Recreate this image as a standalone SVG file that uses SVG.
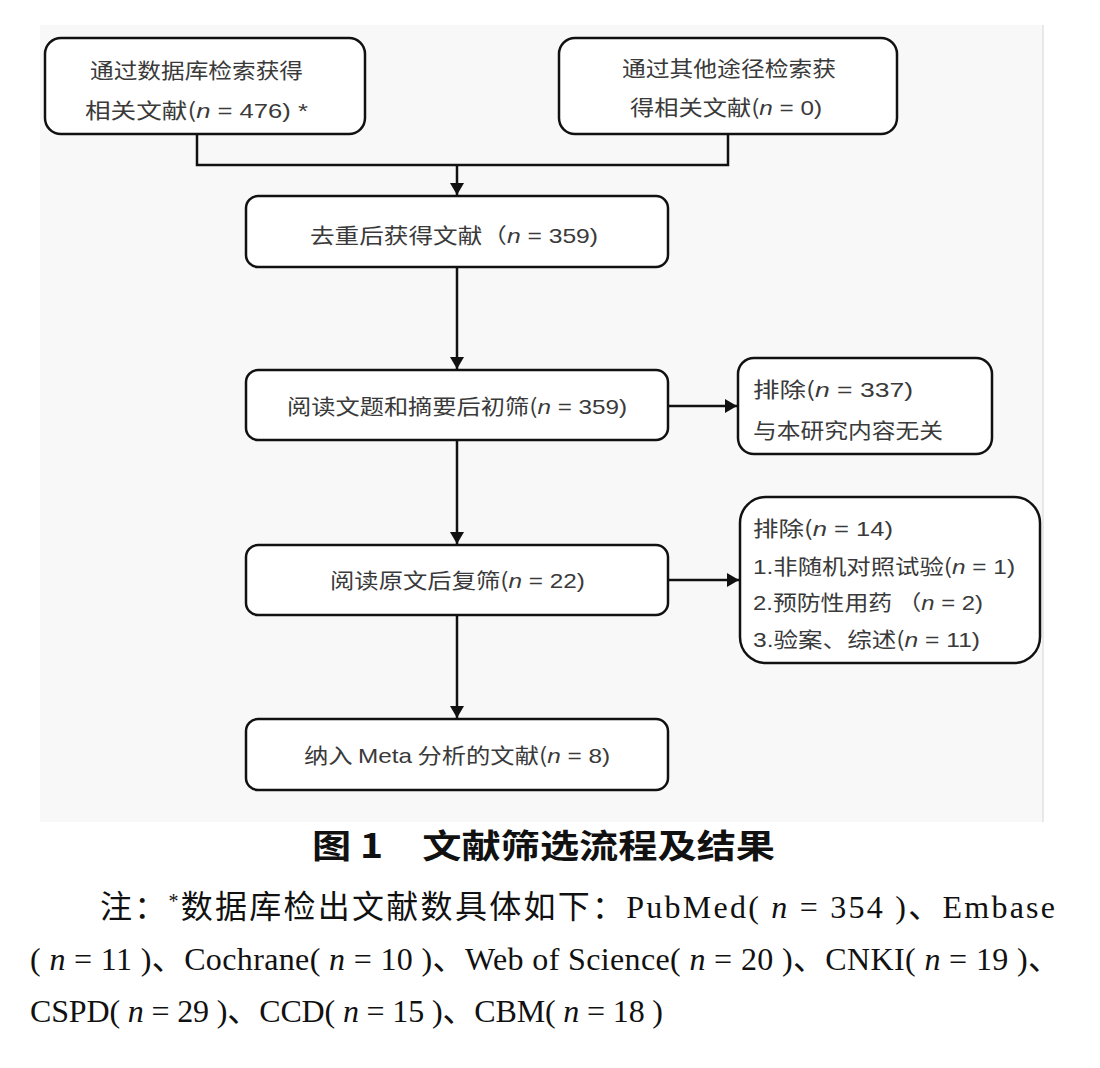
<svg xmlns="http://www.w3.org/2000/svg" width="1100" height="1068" viewBox="0 0 1100 1068">
<style>
.box{fill:#ffffff;stroke:#111;stroke-width:2.5}
.t{font-family:"Noto Sans CJK SC","Liberation Sans",sans-serif;font-size:21px;fill:#3a3a3a}
.n{font-family:"Liberation Sans",sans-serif}
.i{font-style:italic}
.ln{fill:none;stroke:#111;stroke-width:2.5}
.cap{font-family:"Noto Sans CJK SC",sans-serif;font-size:33px;font-weight:bold;fill:#111}
.note{font-family:"Liberation Serif","Noto Sans CJK SC",serif;font-size:32px;fill:#111}
</style>
<defs>
<marker id="ah" viewBox="0 0 12 14" refX="12" refY="7" markerWidth="12" markerHeight="14" markerUnits="userSpaceOnUse" orient="auto">
<path d="M0,0 L12,7 L0,14 Z" fill="#111"/>
</marker>
</defs>
<rect x="40" y="25" width="1003" height="797" fill="#f8f8f8"/>
<line x1="1043" y1="25" x2="1043" y2="822" stroke="#e2e2e2" stroke-width="1.5"/>

<g id="connectors">
<path class="ln" d="M197,134 V165 H728 V134"/>
<line class="ln" x1="457" y1="165" x2="457" y2="195" marker-end="url(#ah)"/>
<line class="ln" x1="457" y1="267" x2="457" y2="369" marker-end="url(#ah)"/>
<line class="ln" x1="668" y1="406" x2="737" y2="406" marker-end="url(#ah)"/>
<line class="ln" x1="457" y1="440" x2="457" y2="544" marker-end="url(#ah)"/>
<line class="ln" x1="668" y1="580" x2="739" y2="580" marker-end="url(#ah)"/>
<line class="ln" x1="457" y1="615" x2="457" y2="718" marker-end="url(#ah)"/>
</g>

<g id="node-db">
<rect class="box" x="45" y="38" width="320" height="96" rx="16"/>
<text class="t" x="90" y="78" textLength="213" lengthAdjust="spacingAndGlyphs">通过数据库检索获得</text>
<text class="t" x="85" y="118" textLength="223" lengthAdjust="spacingAndGlyphs">相关文献(<tspan class="n i">n</tspan><tspan class="n"> = 476) </tspan><tspan class="n">*</tspan></text>
</g>

<g id="node-other">
<rect class="box" x="559" y="38" width="338" height="96" rx="16"/>
<text class="t" x="622" y="76" textLength="214" lengthAdjust="spacingAndGlyphs">通过其他途径检索获</text>
<text class="t" x="630" y="115" textLength="192" lengthAdjust="spacingAndGlyphs">得相关文献(<tspan class="n i">n</tspan><tspan class="n"> = 0)</tspan></text>
</g>

<g id="node-dedup">
<rect class="box" x="246" y="196" width="422" height="71" rx="12"/>
<text class="t" x="310" y="243" textLength="288" lengthAdjust="spacingAndGlyphs">去重后获得文献（<tspan class="n i">n</tspan><tspan class="n"> = 359)</tspan></text>
</g>

<g id="node-screen1">
<rect class="box" x="246" y="370" width="422" height="70" rx="12"/>
<text class="t" x="287" y="414" textLength="340" lengthAdjust="spacingAndGlyphs">阅读文题和摘要后初筛(<tspan class="n i">n</tspan><tspan class="n"> = 359)</tspan></text>
</g>

<g id="node-excl1">
<rect class="box" x="738" y="358" width="254" height="96" rx="16"/>
<text class="t" x="753" y="397" textLength="160" lengthAdjust="spacingAndGlyphs">排除(<tspan class="n i">n</tspan><tspan class="n"> = 337)</tspan></text>
<text class="t" x="753" y="438" textLength="190" lengthAdjust="spacingAndGlyphs">与本研究内容无关</text>
</g>

<g id="node-screen2">
<rect class="box" x="246" y="545" width="422" height="70" rx="12"/>
<text class="t" x="330" y="588" textLength="255" lengthAdjust="spacingAndGlyphs">阅读原文后复筛(<tspan class="n i">n</tspan><tspan class="n"> = 22)</tspan></text>
</g>

<g id="node-excl2">
<rect class="box" x="740" y="497" width="300" height="166" rx="26"/>
<text class="t" x="753" y="536" textLength="140" lengthAdjust="spacingAndGlyphs">排除(<tspan class="n i">n</tspan><tspan class="n"> = 14)</tspan></text>
<text class="t" x="753" y="574" textLength="262" lengthAdjust="spacingAndGlyphs"><tspan class="n">1.</tspan>非随机对照试验(<tspan class="n i">n</tspan><tspan class="n"> = 1)</tspan></text>
<text class="t" x="753" y="610" textLength="230" lengthAdjust="spacingAndGlyphs"><tspan class="n">2.</tspan>预防性用药 （<tspan class="n i">n</tspan><tspan class="n"> = 2)</tspan></text>
<text class="t" x="753" y="647" textLength="227" lengthAdjust="spacingAndGlyphs"><tspan class="n">3.</tspan>验案、综述(<tspan class="n i">n</tspan><tspan class="n"> = 11)</tspan></text>
</g>

<g id="node-included">
<rect class="box" x="246" y="719" width="422" height="71" rx="12"/>
<text class="t" x="304" y="763" textLength="306" lengthAdjust="spacingAndGlyphs">纳入 <tspan class="n">Meta</tspan> 分析的文献(<tspan class="n i">n</tspan><tspan class="n"> = 8)</tspan></text>
</g>

<g id="caption">
<text class="cap" x="312" y="858" textLength="463" lengthAdjust="spacingAndGlyphs">图 1　文献筛选流程及结果</text>
</g>

<g id="notes">
<text class="note" x="100" y="918" textLength="955" lengthAdjust="spacing">注：<tspan font-size="20" dy="-10">*</tspan><tspan dy="10">数据库检出文献数具体如下：PubMed( <tspan class="i">n</tspan> = 354 )、Embase</tspan></text>
<text class="note" x="30" y="970" textLength="1030" lengthAdjust="spacing">( <tspan class="i">n</tspan> = 11 )、Cochrane( <tspan class="i">n</tspan> = 10 )、Web of Science( <tspan class="i">n</tspan> = 20 )、CNKI( <tspan class="i">n</tspan> = 19 )、</text>
<text class="note" x="30" y="1022" textLength="633" lengthAdjust="spacing">CSPD( <tspan class="i">n</tspan> = 29 )、CCD( <tspan class="i">n</tspan> = 15 )、CBM( <tspan class="i">n</tspan> = 18 )</text>
</g>
</svg>
